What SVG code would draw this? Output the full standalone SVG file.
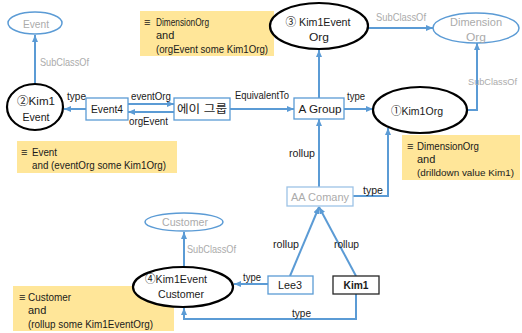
<svg xmlns="http://www.w3.org/2000/svg" width="522" height="333" viewBox="0 0 522 333">
  <defs>
    <marker id="arrow" markerWidth="7" markerHeight="6" refX="7" refY="3" orient="auto" markerUnits="userSpaceOnUse">
      <path d="M0,0 L7,3 L0,6 z" fill="#5B9BD5"/>
    </marker>
  </defs>
  <style>
    text { font-family: "Liberation Sans", "Noto Sans CJK KR", sans-serif; font-size: 11.5px; fill: #1a1a1a; }
    .mid { text-anchor: middle; dominant-baseline: central; }
    .gray { fill: #ABABAB; }
    .lbl { font-size: 11px; }
    .note-t { font-size: 11px; dominant-baseline: central; }
    .tight { font-size: 9.5px; }
    .cls { fill: #ffffff; stroke: #000000; stroke-width: 2.2; }
    .ext { fill: #ffffff; stroke: #5B9BD5; stroke-width: 1.5; }
    .box { fill: #ffffff; stroke: #5B9BD5; stroke-width: 1.3; }
    .box-light { fill: #ffffff; stroke: #9DC3E6; stroke-width: 1.3; }
    .box-dark { fill: #ffffff; stroke: #262626; stroke-width: 1.3; }
    .note { fill: #FFE699; stroke: none; }
    .edge { fill: none; stroke: #5B9BD5; stroke-width: 2; marker-end: url(#arrow); }
  </style>

  <!-- definition notes -->
  <g id="note-kim1event-org">
    <rect class="note" x="140" y="11" width="134" height="45"/>
    <text class="note-t" x="144" y="22">≡</text>
    <text class="note-t" x="156" y="22" textLength="53" lengthAdjust="spacingAndGlyphs">DimensionOrg</text>
    <text class="note-t" x="156" y="35">and</text>
    <text class="note-t" x="156" y="49" textLength="112" lengthAdjust="spacingAndGlyphs">(orgEvent some Kim1Org)</text>
  </g>
  <g id="note-kim1event">
    <rect class="note" x="17" y="141" width="160" height="32"/>
    <text class="note-t" x="21" y="152">≡</text>
    <text class="note-t" x="32" y="152" textLength="25" lengthAdjust="spacingAndGlyphs">Event</text>
    <text class="note-t" x="32" y="165" textLength="134" lengthAdjust="spacingAndGlyphs">and (eventOrg some Kim1Org)</text>
  </g>
  <g id="note-kim1org">
    <rect class="note" x="402" y="135" width="118" height="45"/>
    <text class="note-t" x="407" y="146">≡</text>
    <text class="note-t" x="417" y="146" textLength="62" lengthAdjust="spacingAndGlyphs">DimensionOrg</text>
    <text class="note-t" x="417" y="159">and</text>
    <text class="note-t tight" x="417" y="172" textLength="97" lengthAdjust="spacingAndGlyphs">(drilldown value Kim1)</text>
  </g>
  <g id="note-kim1event-customer">
    <rect class="note" x="13" y="286" width="161" height="45"/>
    <text class="note-t" x="19" y="297">≡</text>
    <text class="note-t" x="28" y="297" textLength="43" lengthAdjust="spacingAndGlyphs">Customer</text>
    <text class="note-t" x="28" y="310">and</text>
    <text class="note-t" x="28" y="324" textLength="125" lengthAdjust="spacingAndGlyphs">(rollup some Kim1EventOrg)</text>
  </g>

  <!-- connectors -->
  <g id="connectors">
    <path class="edge" d="M35,84 L35,35"/>
    <path class="edge" d="M86,109 L64,109"/>
    <path class="edge" d="M128,104 L174,104"/>
    <path class="edge" d="M174,112 L128,112"/>
    <path class="edge" d="M230,109 L294,109"/>
    <path class="edge" d="M319,98 L319,50"/>
    <path class="edge" d="M344,109 L373,109"/>
    <path class="edge" d="M368,28 L433,28"/>
    <path class="edge" d="M467,110 L477,110 L477,43"/>
    <path class="edge" d="M319,187 L319,119"/>
    <path class="edge" d="M353,196 L388,196 L388,128"/>
    <path class="edge" d="M290,276 L319,207"/>
    <path class="edge" d="M356,276 L319,207"/>
    <path class="edge" d="M268,284 L234,284"/>
    <path class="edge" d="M356,294 L356,319 L184,319 L184,308"/>
    <path class="edge" d="M184,267 L184,232"/>

    <text class="lbl gray" x="40" y="66" textLength="49" lengthAdjust="spacingAndGlyphs">SubClassOf</text>
    <text class="lbl" x="67" y="100" textLength="19" lengthAdjust="spacingAndGlyphs">type</text>
    <text class="lbl" x="131" y="100" textLength="40" lengthAdjust="spacingAndGlyphs">eventOrg</text>
    <text class="lbl" x="129" y="125" textLength="39" lengthAdjust="spacingAndGlyphs">orgEvent</text>
    <text class="lbl" x="235" y="99" textLength="54" lengthAdjust="spacingAndGlyphs">EquivalentTo</text>
    <text class="lbl" x="347" y="100" textLength="18" lengthAdjust="spacingAndGlyphs">type</text>
    <text class="lbl gray" x="376" y="21" textLength="50" lengthAdjust="spacingAndGlyphs">SubClassOf</text>
    <text class="lbl gray tight" x="468" y="85" textLength="49" lengthAdjust="spacingAndGlyphs">SubClassOf</text>
    <text class="lbl" x="289" y="157" textLength="26" lengthAdjust="spacingAndGlyphs">rollup</text>
    <text class="lbl" x="363" y="194" textLength="20" lengthAdjust="spacingAndGlyphs">type</text>
    <text class="lbl" x="273" y="248" textLength="26" lengthAdjust="spacingAndGlyphs">rollup</text>
    <text class="lbl" x="334" y="248" textLength="25" lengthAdjust="spacingAndGlyphs">rollup</text>
    <text class="lbl" x="243" y="281" textLength="18" lengthAdjust="spacingAndGlyphs">type</text>
    <text class="lbl" x="292" y="317" textLength="19" lengthAdjust="spacingAndGlyphs">type</text>
    <text class="lbl gray" x="187" y="253" textLength="49" lengthAdjust="spacingAndGlyphs">SubClassOf</text>
  </g>

  <!-- classes -->
  <g id="event">
    <ellipse class="ext" cx="35" cy="23" rx="27" ry="11"/>
    <text class="mid gray" x="36" y="24" textLength="26" lengthAdjust="spacingAndGlyphs">Event</text>
  </g>
  <g id="kim1event">
    <ellipse class="cls" cx="35" cy="107" rx="28" ry="23"/>
    <text class="mid" x="36" y="101" textLength="38" lengthAdjust="spacingAndGlyphs">②Kim1</text>
    <text class="mid" x="36" y="117" textLength="27" lengthAdjust="spacingAndGlyphs">Event</text>
  </g>
  <g id="kim1event-org">
    <ellipse class="cls" cx="319" cy="26" rx="49" ry="23"/>
    <text class="mid" x="318" y="22" textLength="65" lengthAdjust="spacingAndGlyphs">③ Kim1Event</text>
    <text class="mid" x="319" y="37" textLength="20" lengthAdjust="spacingAndGlyphs">Org</text>
  </g>
  <g id="dimension-org">
    <ellipse class="ext" cx="476" cy="28" rx="43" ry="15"/>
    <text class="mid gray" x="476" y="22" textLength="52" lengthAdjust="spacingAndGlyphs">Dimension</text>
    <text class="mid gray" x="476" y="37" textLength="20" lengthAdjust="spacingAndGlyphs">Org</text>
  </g>
  <g id="kim1org">
    <ellipse class="cls" cx="420" cy="110" rx="47" ry="23"/>
    <text class="mid" x="417" y="111" textLength="52" lengthAdjust="spacingAndGlyphs">①Kim1Org</text>
  </g>
  <g id="customer">
    <ellipse class="ext" cx="184" cy="222" rx="39" ry="9"/>
    <text class="mid gray" x="185" y="222" textLength="46" lengthAdjust="spacingAndGlyphs">Customer</text>
  </g>
  <g id="kim1event-customer">
    <ellipse class="cls" cx="183" cy="287" rx="50" ry="20"/>
    <text class="mid" x="176" y="279" textLength="62" lengthAdjust="spacingAndGlyphs">④Kim1Event</text>
    <text class="mid" x="181" y="294" textLength="46" lengthAdjust="spacingAndGlyphs">Customer</text>
  </g>

  <!-- individuals -->
  <g id="event4">
    <rect class="box" x="86" y="98" width="42" height="22"/>
    <text class="mid" x="107" y="109" textLength="32" lengthAdjust="spacingAndGlyphs">Event4</text>
  </g>
  <g id="a-group-ko">
    <rect class="box" x="174" y="98" width="56" height="22"/>
    <text class="mid" x="202" y="109" textLength="50" lengthAdjust="spacingAndGlyphs">에이 그룹</text>
  </g>
  <g id="a-group">
    <rect class="box" x="294" y="98" width="50" height="21"/>
    <text class="mid" x="320" y="109" textLength="43" lengthAdjust="spacingAndGlyphs">A Group</text>
  </g>
  <g id="aa-comany">
    <rect class="box-light" x="287" y="187" width="66" height="19"/>
    <text class="mid gray" x="320" y="197" textLength="58" lengthAdjust="spacingAndGlyphs">AA Comany</text>
  </g>
  <g id="lee3">
    <rect class="box" x="268" y="276" width="45" height="18"/>
    <text class="mid" x="290" y="285" textLength="24" lengthAdjust="spacingAndGlyphs">Lee3</text>
  </g>
  <g id="kim1">
    <rect class="box-dark" x="333" y="276" width="46" height="18"/>
    <text class="mid" x="356" y="285" font-weight="bold" textLength="25" lengthAdjust="spacingAndGlyphs">Kim1</text>
  </g>
</svg>
